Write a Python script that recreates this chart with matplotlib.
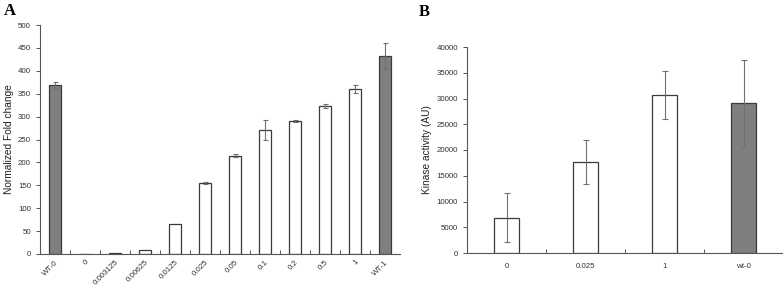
import matplotlib
matplotlib.use("Agg")
import matplotlib.pyplot as plt
import numpy as np

# panel A
a_labels = ["WT-0", "0", "0.003125", "0.00625", "0.0125", "0.025", "0.05",
            "0.1", "0.2", "0.5", "1", "WT-1"]
a_values = [369, 1, 3, 8, 65, 155, 215, 270, 290, 323, 360, 432]
a_errors = [7, 0, 0, 0, 0, 3, 3, 22, 2, 5, 8, 28]
a_dark = [True] + [False] * 10 + [True]

# panel B
b_labels = ["0", "0.025", "1", "wt-0"]
b_values = [6850, 17650, 30650, 29100]
b_errors = [4800, 4250, 4600, 8450]
b_dark = [False, False, False, True]

W, H = 783, 292
fig = plt.figure(figsize=(W / 100, H / 100), dpi=100)
plt.rcParams['font.family'] = ['Liberation Sans', 'DejaVu Sans']

edge = "#3a3a3a"
fill_dark = "#7f7f7f"
err_col = "#707070"
tick_fs = 5.7


def style(ax):
    for s in ["top", "right"]:
        ax.spines[s].set_visible(False)
    for s in ["left", "bottom"]:
        ax.spines[s].set_color("#555555")
        ax.spines[s].set_linewidth(0.8)
    ax.tick_params(axis="y", direction="out", length=3, width=0.7,
                   colors="#555555", labelsize=tick_fs, labelcolor="#333333")
    ax.tick_params(axis="x", which="minor", direction="in", length=3,
                   width=0.7, colors="#555555")
    ax.tick_params(axis="x", which="major", length=0, labelsize=tick_fs,
                   labelcolor="#333333")


# ---- A ----
axA = fig.add_axes([40 / W, (H - 254) / H, 360 / W, 229 / H])
xa = np.arange(len(a_labels))
colors = [fill_dark if d else "white" for d in a_dark]
axA.bar(xa, a_values, width=0.42, color=colors, edgecolor=edge, linewidth=0.9,
        zorder=2)
errs = [e if e > 0 else np.nan for e in a_errors]
axA.errorbar(xa, a_values, yerr=errs, fmt="none", ecolor=err_col,
             elinewidth=0.8, capsize=1.8, capthick=0.8, zorder=3)
axA.set_xlim(-0.5, len(a_labels) - 0.5)
axA.set_ylim(0, 500)
axA.set_yticks(np.arange(0, 501, 50))
axA.set_xticks(xa)
axA.set_xticklabels(a_labels, rotation=45, ha="right", rotation_mode="anchor")
axA.set_xticks(np.arange(0.5, len(a_labels) - 0.5, 1), minor=True)
axA.set_ylabel("Normalized Fold change", fontsize=7.3, color="#222222",
               labelpad=3)
style(axA)
fig.text(4 / W, 1 - 15 / H, "A", fontsize=12, fontweight="bold",
         family="Liberation Serif")

# ---- B ----
axB = fig.add_axes([467 / W, (H - 253) / H, 316 / W, 206 / H])
xb = np.arange(len(b_labels))
colors = [fill_dark if d else "white" for d in b_dark]
axB.bar(xb, b_values, width=0.32, color=colors, edgecolor=edge, linewidth=0.9,
        zorder=2)
axB.errorbar(xb, b_values, yerr=b_errors, fmt="none", ecolor=err_col,
             elinewidth=0.8, capsize=2, capthick=0.8, zorder=3)
axB.set_xlim(-0.5, len(b_labels) - 0.5)
axB.set_ylim(0, 40000)
axB.set_yticks(np.arange(0, 40001, 5000))
axB.set_xticks(xb)
axB.set_xticklabels(b_labels)
axB.set_xticks(np.arange(0.5, len(b_labels) - 0.5, 1), minor=True)
axB.set_ylabel("Kinase activity (AU)", fontsize=7.3, color="#222222",
               labelpad=3)
style(axB)
axB.tick_params(axis="x", which="major", pad=7)
fig.text(419 / W, 1 - 16 / H, "B", fontsize=12, fontweight="bold",
         family="Liberation Serif")

fig.savefig("out.png", dpi=100)
